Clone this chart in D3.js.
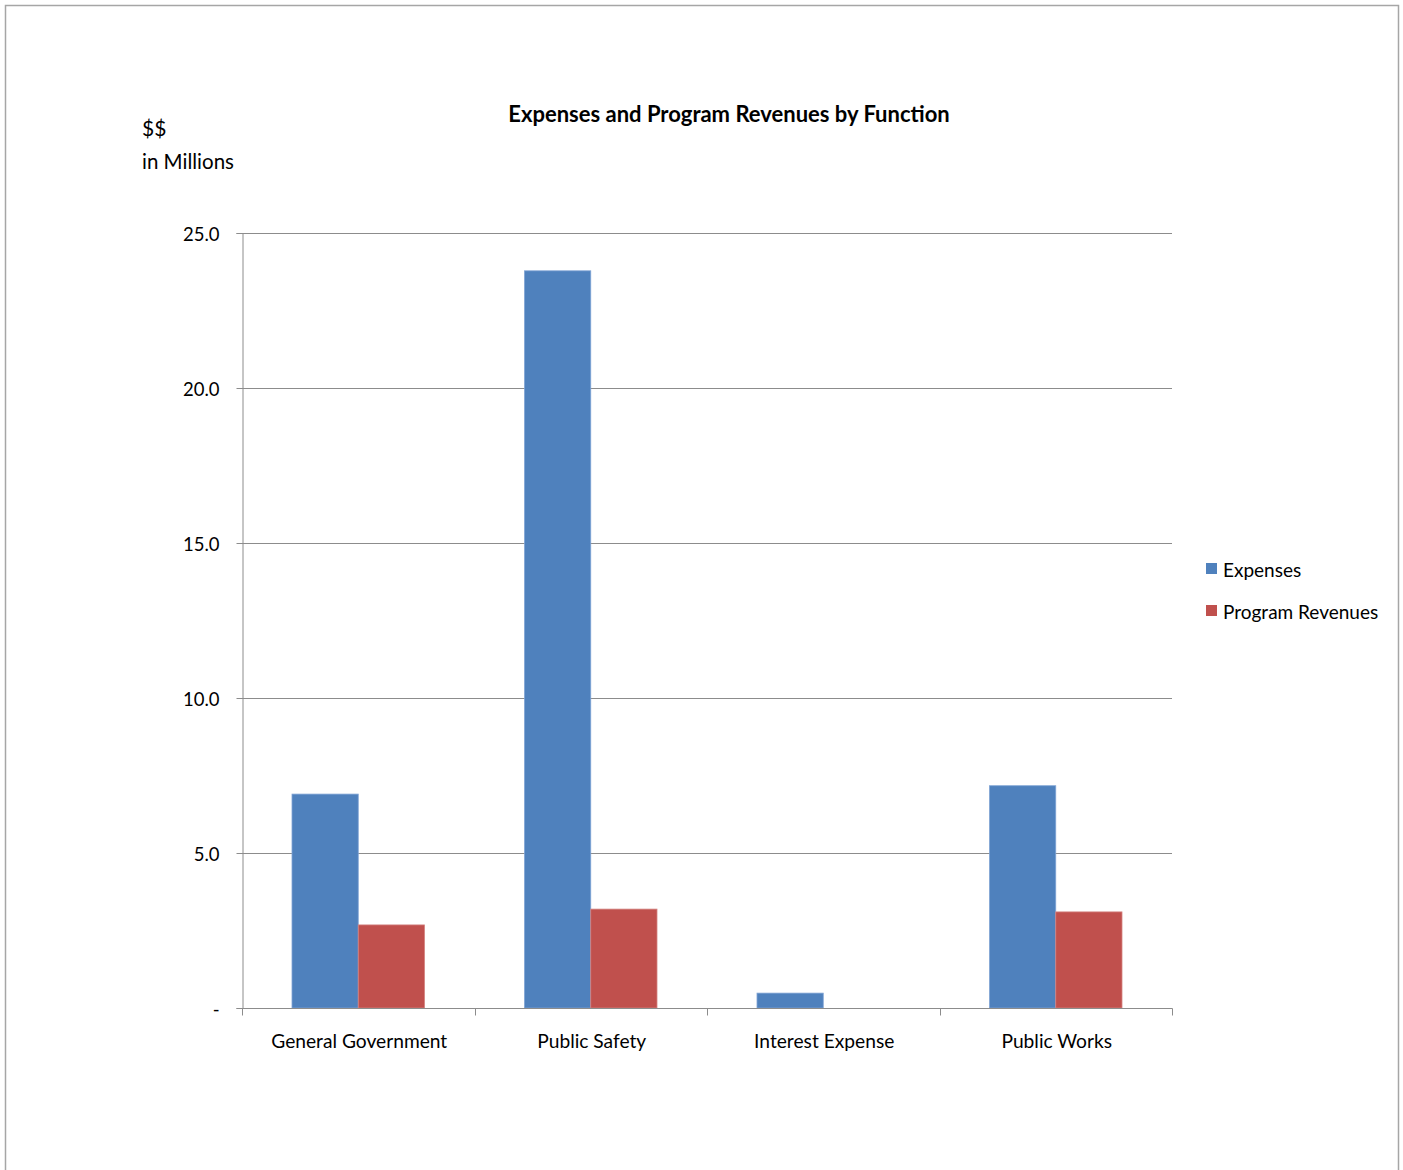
<!DOCTYPE html>
<html>
<head>
<meta charset="utf-8">
<script src="https://cdn.jsdelivr.net/npm/d3@7"></script>
<style>
  html, body { margin: 0; padding: 0; background: #fff; }
  svg { display: block; }
  text { font-family: Lato, "Open Sans", sans-serif; fill: #000; }
</style>
</head>
<body>
<script>
// Expenses and program revenues by function, $ millions
const categories = ["General Government", "Public Safety", "Interest Expense", "Public Works"];
const expenses = [6.9, 23.78, 0.48, 7.17];
const programRevenues = [2.68, 3.19, 0, 3.1];
const seriesNames = ["Expenses", "Program Revenues"];
const seriesColors = ["#4F81BD", "#C0504D"];
const yTicks = [0, 5, 10, 15, 20, 25];

const W = 1403, H = 1170;
const plot = { left: 242, right: 1172, top: 233, bottom: 1008 };

const svg = d3.select("body").append("svg").attr("width", W).attr("height", H);

// outer frame
svg.append("path")
  .attr("d", `M5.5,${H} V5.5 H1398.5 V${H}`)
  .attr("fill", "none").attr("stroke", "#A6A6A6").attr("stroke-width", 1.5);

const x0 = d3.scaleBand().domain(categories).range([plot.left, plot.right]).paddingInner(0).paddingOuter(0);
const groupPad = 50;
const x1 = d3.scaleBand().domain(seriesNames)
  .range([groupPad, x0.bandwidth() - groupPad]).padding(0);
const y = d3.scaleLinear().domain([0, 25]).range([plot.bottom, plot.top]);

// horizontal gridlines
svg.append("g").selectAll("line").data(yTicks.filter(d => d > 0)).join("line")
  .attr("x1", plot.left).attr("x2", plot.right)
  .attr("y1", d => Math.round(y(d)) + 0.5).attr("y2", d => Math.round(y(d)) + 0.5)
  .attr("stroke", "#8C8C8C").attr("stroke-width", 1);

// bars
const rows = categories.map((c, i) => ({ cat: c, vals: [expenses[i], programRevenues[i]] }));
const groups = svg.append("g").selectAll("g").data(rows).join("g")
  .attr("transform", d => `translate(${x0(d.cat)},0)`);
groups.selectAll("rect").data(d => d.vals.map((v, j) => ({ v, j })).filter(e => e.v > 0)).join("rect")
  .attr("x", e => x1(seriesNames[e.j]))
  .attr("width", x1.bandwidth())
  .attr("y", e => y(e.v))
  .attr("height", e => y(0) - y(e.v))
  .attr("fill", e => seriesColors[e.j])
  .attr("stroke", e => e.j === 0 ? "#7FA3D4" : "#D48380")
  .attr("stroke-width", 0.8);

// y axis
const yAxis = d3.axisLeft(y).tickValues(yTicks).tickSize(6).tickPadding(17)
  .tickFormat(d => d === 0 ? "-" : d.toFixed(1));
const gy = svg.append("g").attr("transform", `translate(${plot.left + 0.5},0)`).call(yAxis);
gy.select(".domain").attr("stroke", "#8C8C8C");
gy.selectAll(".tick line").attr("stroke", "#8C8C8C");
gy.selectAll(".tick text").attr("font-size", 18.5).attr("font-family", "Lato, sans-serif")
  .attr("fill", "#000").attr("dy", "0.4em");

// x axis with ticks on category boundaries
const gx = svg.append("g").attr("transform", `translate(0,${plot.bottom + 0.5})`);
gx.append("line").attr("x1", plot.left).attr("x2", plot.right + 0.5).attr("stroke", "#8C8C8C");
const bounds = categories.map(c => x0(c)).concat([plot.right]);
gx.selectAll("line.tk").data(bounds).join("line").attr("class", "tk")
  .attr("x1", d => Math.round(d) + 0.5).attr("x2", d => Math.round(d) + 0.5)
  .attr("y1", 0).attr("y2", 7).attr("stroke", "#8C8C8C");
gx.selectAll("text").data(categories).join("text")
  .attr("x", d => x0(d) + x0.bandwidth() / 2 + 1)
  .attr("y", 39)
  .attr("text-anchor", "middle")
  .attr("font-size", 19.2)
  .text(d => d);

// title
svg.append("text").attr("x", 729).attr("y", 122).attr("text-anchor", "middle")
  .attr("font-size", 22).attr("font-weight", "bold").text("Expenses and Program Revenues by Function");

// unit label
svg.append("text").attr("x", 142).attr("y", 136).attr("font-size", 21).text("$$");
svg.append("text").attr("x", 142).attr("y", 169).attr("font-size", 20.5).text("in Millions");

// legend
const lg = svg.append("g").selectAll("g").data(seriesNames).join("g")
  .attr("transform", (d, i) => `translate(1206,${563 + i * 42})`);
lg.append("rect").attr("width", 11).attr("height", 11).attr("fill", (d, i) => seriesColors[i]);
lg.append("text").attr("x", 17).attr("y", 14).attr("font-size", 19).text(d => d);
</script>
</body>
</html>
